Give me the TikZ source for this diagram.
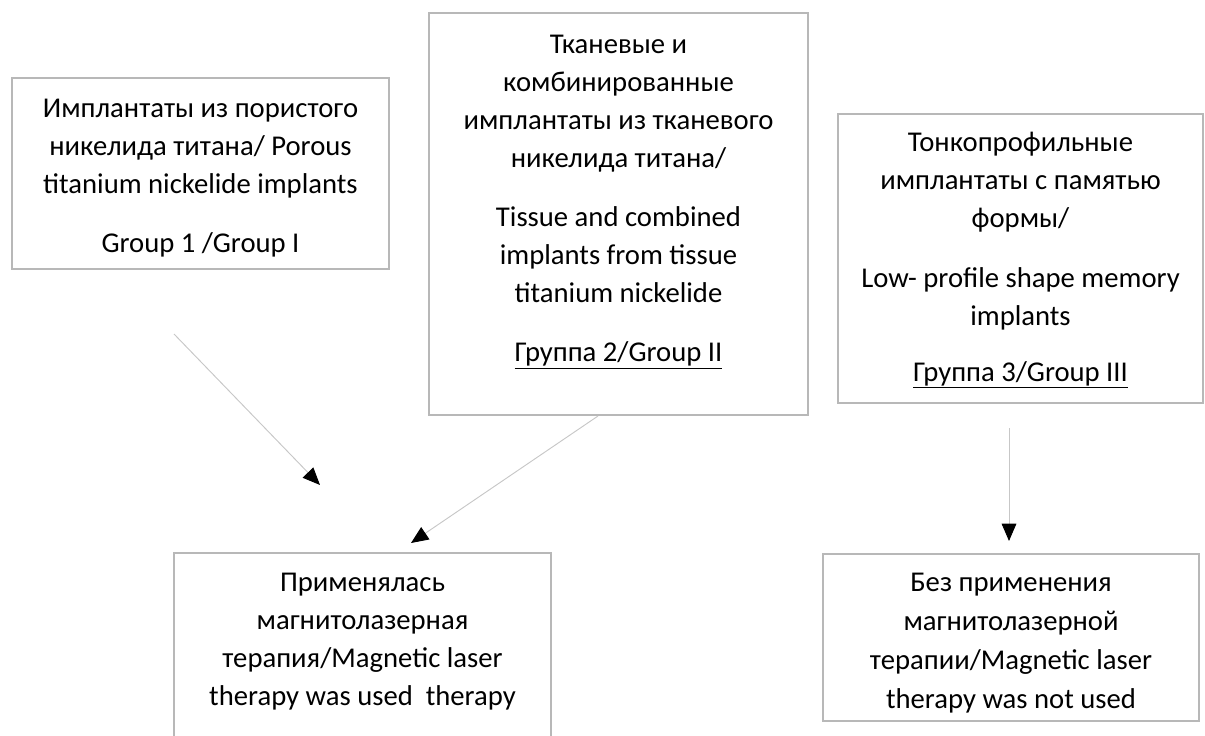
\documentclass[tikz,border=0pt]{standalone}
\usepackage{fontspec}
\setmainfont{Carlito}
\usetikzlibrary{arrows.meta}
\tikzstyle{group}=[draw=black!28, line width=0.8pt, inner sep=0pt]
\tikzstyle{caption}=[align=center, inner sep=0pt, anchor=north, font=\fontsize{21.5}{28.5}\selectfont]
\tikzstyle{link}=[draw=black!22, line width=0.7pt, -{Triangle[length=13pt,width=11pt,color=black]}]

\begin{document}
\begin{tikzpicture}[x=0.75pt,y=-0.75pt]
\clip (0,0) rectangle (1205,735);

\node (g1) [group, minimum width=377*0.75pt, minimum height=191*0.75pt] at (200.5,173.5) {};
\node (g1txt) [caption] at ([yshift=-16pt]g1.north) {Имплантаты из пористого\\никелида титана/ Porous\\titanium nickelide implants\\[16pt]Group 1 /Group I};

\node (g2) [group, minimum width=379*0.75pt, minimum height=402*0.75pt] at (618.5,214) {};
\node (g2txt) [caption] at ([yshift=-16.5pt]g2.north) {Тканевые и\\комбинированные\\имплантаты из тканевого\\никелида титана/\\[16pt]Tissue and combined\\implants from tissue\\titanium nickelide\\[16pt]\underline{Группа 2/Group II}};

\node (g3) [group, minimum width=365*0.75pt, minimum height=289*0.75pt] at (1020.5,258.5) {};
\node (g3txt) [caption] at ([yshift=-13.5pt]g3.north) {Тонкопрофильные\\имплантаты с памятью\\формы/\\[16.5pt]Low- profile shape memory\\implants\\[13.5pt]\underline{Группа 3/Group III}};

\node (mlt) [group, minimum width=377*0.75pt, minimum height=207*0.75pt] at (362.5,656.5) {};
\node (mlttxt) [caption] at ([yshift=-15pt]mlt.north) {Применялась\\магнитолазерная\\терапия/Magnetic laser\\therapy was used\ \ therapy};

\node (nomlt) [group, minimum width=376*0.75pt, minimum height=167*0.75pt] at (1011,637.5) {};
\node (nomlttxt) [caption, font=\fontsize{21.5}{29.2}\selectfont] at ([yshift=-14.5pt]nomlt.north) {Без применения\\магнитолазерной\\терапии/Magnetic laser\\therapy was not used};

\coordinate (a1s) at (174,334);
\coordinate (a1e) at (320,485);
\coordinate (a2s) at (598,416);
\coordinate (a2e) at (411,543);
\coordinate (a3s) at (1009,428);
\coordinate (a3e) at (1009,541);
\draw [link] (a1s) -- (a1e);
\draw [link] (a2s) -- (a2e);
\draw [link] (a3s) -- (a3e);

\end{tikzpicture}
\end{document}
